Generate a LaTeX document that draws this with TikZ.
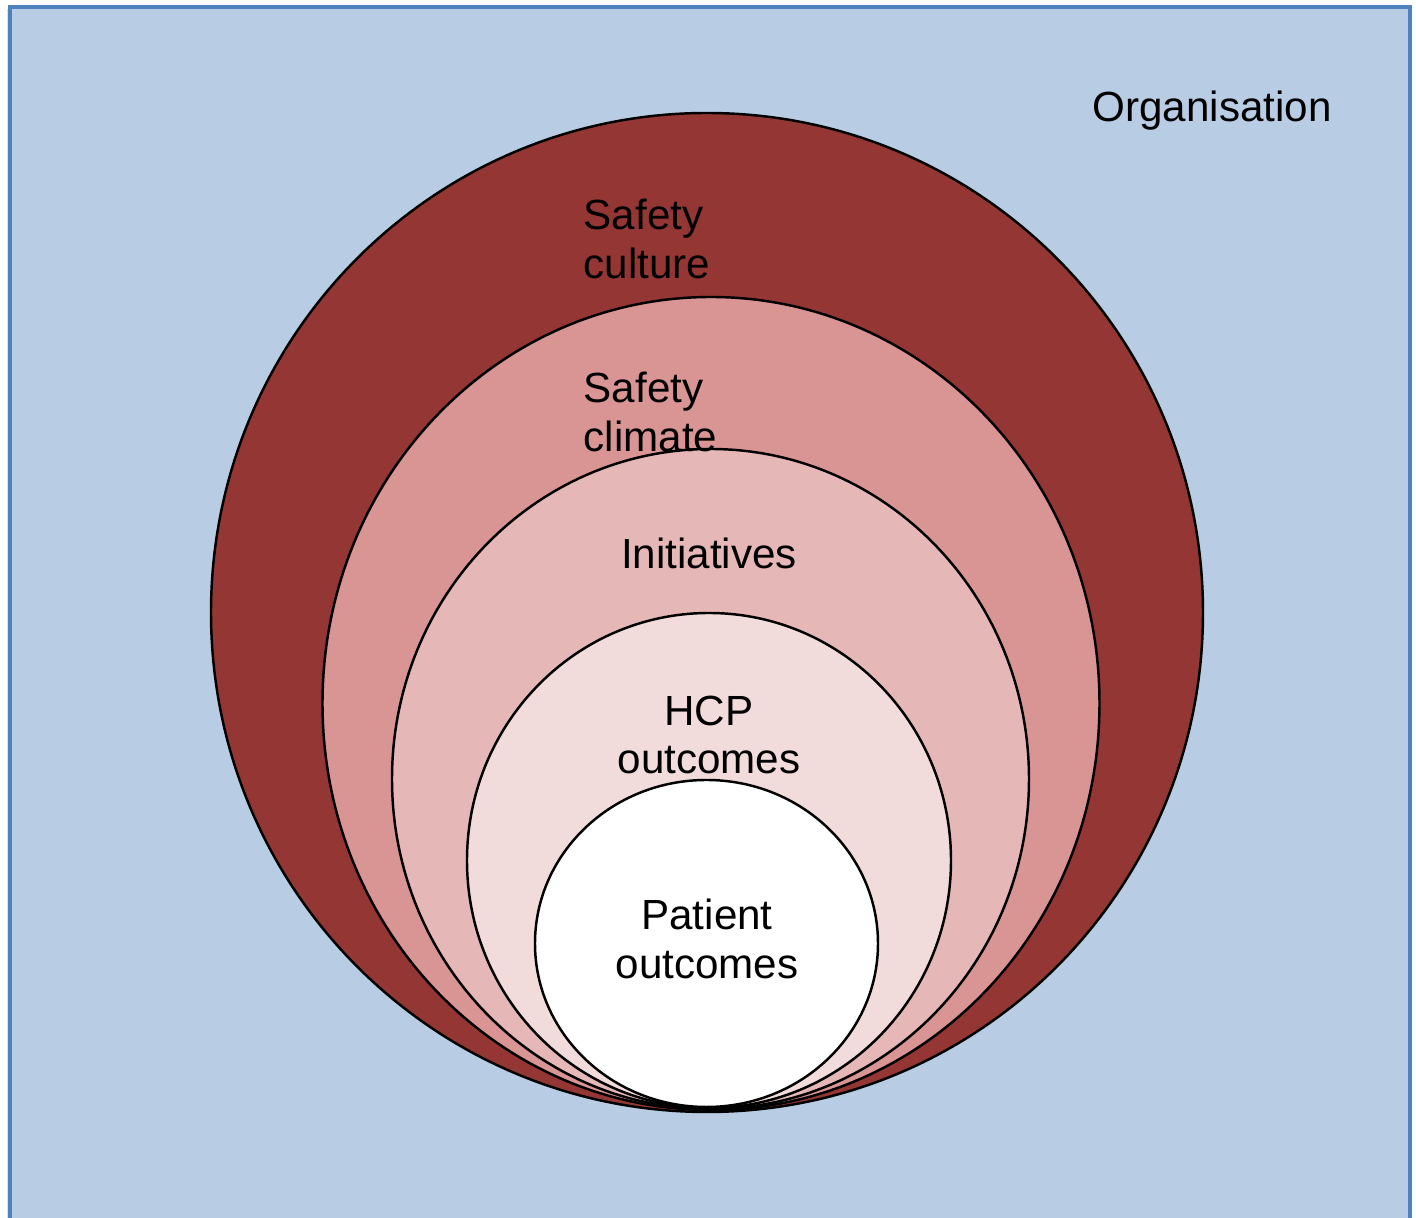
\documentclass[tikz,border=0pt]{standalone}
\usepackage{fontspec}
\setmainfont{Liberation Sans}
\usetikzlibrary{shapes.geometric}

\definecolor{orgblue}{HTML}{B8CCE4}
\definecolor{orgedge}{HTML}{4F81BD}
\definecolor{culturered}{HTML}{943634}
\definecolor{climatered}{HTML}{D99594}
\definecolor{initpink}{HTML}{E5B8B7}
\definecolor{hcppink}{HTML}{F2DBDB}

\begin{document}
\begin{tikzpicture}[
  ring/.style={ellipse,draw=black,line width=0.7pt,inner sep=0pt},
  lbl/.style={font=\fontsize{12}{13.8}\selectfont,inner sep=0pt}]
  \useasboundingbox (0,0) rectangle (14.16,12.18);
  % organisation box, open at the bottom
  \fill[black!12] (0.07,-0.2) rectangle (14.07,12.09);
  \draw[orgedge,line width=0.9pt,fill=orgblue] (0.10,-0.2) rectangle (14.10,12.11);
  \node[lbl] (org) at (12.12,11.07) {Organisation};
  % nested layers, all touching at the bottom
  \node[ring,fill=culturered,minimum width=9.92cm,minimum height=9.99cm] (culture) at (7.07,6.055) {};
  \node[ring,fill=climatered,minimum width=7.77cm,minimum height=8.13cm] (climate) at (7.11,5.145) {};
  \node[ring,fill=initpink,minimum width=6.37cm,minimum height=6.60cm] (init) at (7.105,4.39) {};
  \node[ring,fill=hcppink,minimum width=4.84cm,minimum height=4.95cm] (hcp) at (7.09,3.575) {};
  \node[ring,fill=white,minimum width=3.43cm,minimum height=3.27cm] (patient) at (7.065,2.745) {};
  % labels
  \node[lbl,anchor=west,align=left] (culturetxt) at (5.83,9.79) {Safety\\culture};
  \node[lbl,anchor=west,align=left] (climatetxt) at (5.83,8.06) {Safety\\climate};
  \node[lbl] (inittxt) at (7.09,6.65) {Initiatives};
  \node[lbl,align=center] (hcptxt) at (7.09,4.83) {HCP\\outcomes};
  \node[lbl,align=center] (patienttxt) at (7.07,2.79) {Patient\\outcomes};
\end{tikzpicture}
\end{document}
